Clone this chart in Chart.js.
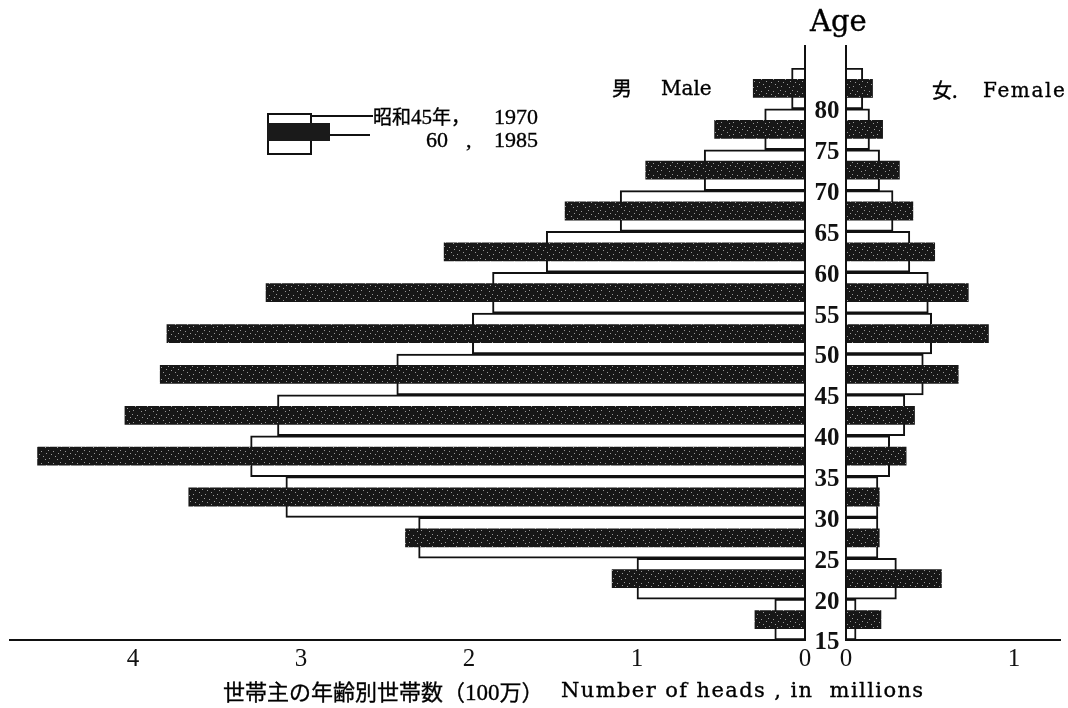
<!DOCTYPE html>
<html>
<head>
<meta charset="utf-8">
<script src="https://cdn.jsdelivr.net/npm/chart.js@4.4.1/dist/chart.umd.min.js"></script>
<style>
html,body{margin:0;padding:0;background:#fff;}
#wrap{position:relative;width:1068px;height:708px;overflow:hidden;background:#fff;}
canvas.full{position:absolute;left:0;top:0;width:1068px;height:708px;}
.t{position:absolute;white-space:nowrap;color:#000;font-family:"DejaVu Serif","Noto Sans CJK JP",serif;line-height:1;-webkit-text-stroke:0.35px #000;}
.jp{font-family:"Noto Sans CJK JP","DejaVu Serif",sans-serif;}
.num{font-family:"Liberation Serif",serif;}
.box{position:absolute;box-sizing:border-box;}
</style>
</head>
<body>
<div id="wrap">
  <canvas id="male" class="full" width="1068" height="708"></canvas>
  <canvas id="female" class="full" width="1068" height="708"></canvas>

  <div class="t" style="left:810px;top:7px;font-size:29px;">Age</div>

  <div class="t jp" style="left:612px;top:78px;font-size:20px;">男</div>
  <div class="t" style="left:661px;top:78px;font-size:20px;">Male</div>
  <div class="t jp" style="left:932px;top:80px;font-size:20px;">女.</div>
  <div class="t" style="left:983px;top:80px;font-size:20px;letter-spacing:1.6px;">Female</div>

  <!-- legend -->
  <div class="box" style="left:267px;top:113px;width:45px;height:42px;border:2px solid #111;background:#fff;"></div>
  <div class="box" id="legDark" style="left:267px;top:123px;width:63px;height:18px;background:#1a1a1a;"></div>
  <div class="box" style="left:312px;top:115px;width:61px;height:2px;background:#111;"></div>
  <div class="box" style="left:330px;top:134px;width:40px;height:2px;background:#111;"></div>
  <div class="t jp" style="left:373px;top:106px;font-size:19px;">昭和<span class="num" style="font-size:21px;">45</span>年，</div>
  <div class="t num" style="left:494px;top:106px;font-size:22px;">1970</div>
  <div class="t num" style="left:426px;top:129px;font-size:22px;">60</div>
  <div class="t num" style="left:466px;top:129px;font-size:22px;">,</div>
  <div class="t num" style="left:494px;top:129px;font-size:22px;">1985</div>

  <!-- bottom title -->
  <div class="t jp" style="left:223px;top:679px;font-size:22px;">世帯主の年齢別世帯数（<span class="num" style="font-size:23px;">100</span>万）</div>
  <div class="t" style="left:561px;top:680px;font-size:21px;letter-spacing:1.4px;">Number of heads , in &nbsp;millions</div>
</div>

<script>
// ---- data (millions of household heads) ----
const ageGroups = ['15-19','20-24','25-29','30-34','35-39','40-44','45-49','50-54','55-59','60-64','65-69','70-74','75-79','80+'];
const ageTicks  = ['15','20','25','30','35','40','45','50','55','60','65','70','75','80'];
const male1970   = [0.18, 1.00, 2.30, 3.09, 3.30, 3.14, 2.43, 1.98, 1.86, 1.54, 1.10, 0.60, 0.24, 0.08];
const male1985   = [0.30, 1.15, 2.38, 3.67, 4.57, 4.05, 3.84, 3.80, 3.21, 2.15, 1.43, 0.95, 0.54, 0.31];
const female1970 = [0.06, 0.30, 0.19, 0.19, 0.26, 0.35, 0.46, 0.51, 0.49, 0.38, 0.28, 0.20, 0.14, 0.10];
const female1985 = [0.21, 0.57, 0.20, 0.20, 0.36, 0.41, 0.67, 0.85, 0.73, 0.53, 0.40, 0.32, 0.22, 0.16];
const seriesLabels = ['昭和45年, 1970', '60 , 1985'];

// ---- styling helpers ----
function speckle(){
  const c = document.createElement('canvas'); c.width = 12; c.height = 12;
  const g = c.getContext('2d');
  g.fillStyle = '#171717'; g.fillRect(0,0,12,12);
  g.fillStyle = '#9a9a9a';
  [[1,2],[5,7],[9,3],[3,10],[10,9],[7,0],[0,6]].forEach(p => g.fillRect(p[0],p[1],1,1));
  return g.createPattern(c,'repeat');
}
const pat = speckle();

const INK = '#111';
const tickFont = {family:'"Liberation Serif", serif', size:25};
const TOP = 68, BOTTOM_PAD = 30, LINE_TOP = 45;

function datasets(d70, d85){
  return [
    {label: seriesLabels[1], data: d85, backgroundColor: pat, borderWidth: 0,
     barPercentage: 0.46, categoryPercentage: 1, grouped: false, order: 0},
    {label: seriesLabels[0], data: d70, backgroundColor: '#fff', borderColor: INK, borderWidth: 2,
     barPercentage: 1, categoryPercentage: 1, grouped: false, order: 1}
  ];
}

const maleCenter = {
  id: 'maleCenter',
  afterDraw(chart){
    const {ctx, chartArea, scales} = chart;
    const xb = scales.x.getPixelForValue(0);
    ctx.save();
    ctx.strokeStyle = INK; ctx.lineWidth = 2;
    ctx.beginPath(); ctx.moveTo(xb, LINE_TOP); ctx.lineTo(xb, chartArea.bottom); ctx.stroke();
    const y = scales.y;
    const band = Math.abs(y.getPixelForValue(0) - y.getPixelForValue(1));
    ctx.font = 'bold 25px "Liberation Serif", serif';
    ctx.textAlign = 'center'; ctx.textBaseline = 'middle'; ctx.fillStyle = INK;
    ageTicks.forEach((t, i) => {
      ctx.fillText(t, xb + 22, y.getPixelForValue(i) + band/2 + 3);
    });
    ctx.restore();
  }
};
const femaleCenter = {
  id: 'femaleCenter',
  afterDraw(chart){
    const {ctx, chartArea, scales} = chart;
    const xb = scales.x.getPixelForValue(0);
    ctx.save();
    ctx.strokeStyle = INK; ctx.lineWidth = 2;
    ctx.beginPath(); ctx.moveTo(xb, LINE_TOP); ctx.lineTo(xb, chartArea.bottom); ctx.stroke();
    ctx.restore();
  }
};

function opts(reverse, max, padL, padR){
  return {
    indexAxis: 'y', responsive: false, animation: false,
    layout: {padding: {left: padL, right: padR, top: TOP, bottom: BOTTOM_PAD}},
    plugins: {legend: {display: false}, tooltip: {enabled: false}},
    scales: {
      x: {reverse: reverse, min: 0, max: max, position: 'bottom',
          grid: {display: false, drawTicks: false},
          border: {display: true, color: INK, width: 2},
          ticks: {stepSize: 1, includeBounds: false, padding: 4, color: INK, font: tickFont}},
      y: {reverse: true, display: false, grid: {display: false}}
    }
  };
}

// male: base at x=805, 168 px per million, axis reaching x=10
new Chart(document.getElementById('male'), {
  type: 'bar',
  data: {labels: ageGroups, datasets: datasets(male1970, male1985)},
  options: opts(true, 795/168, 10, 263),
  plugins: [maleCenter]
});
// female: base at x=846, axis reaching x=1060
new Chart(document.getElementById('female'), {
  type: 'bar',
  data: {labels: ageGroups, datasets: datasets(female1970, female1985)},
  options: opts(false, 214/168, 846, 8),
  plugins: [femaleCenter]
});
</script>
</body>
</html>
